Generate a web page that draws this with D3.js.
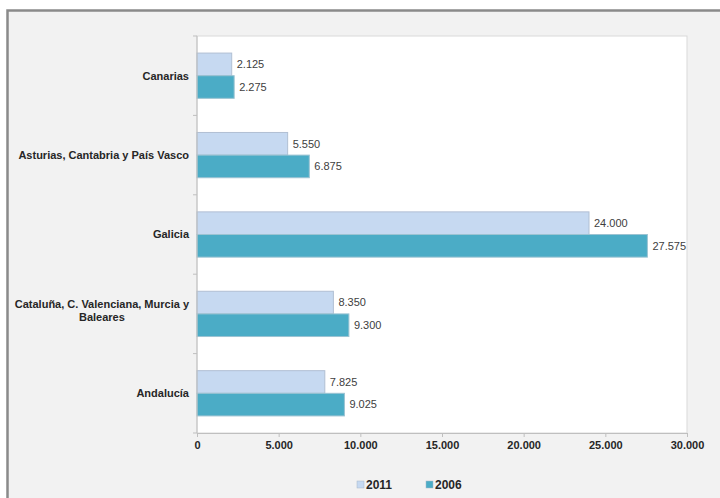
<!DOCTYPE html>
<html><head><meta charset="utf-8">
<script src="https://cdn.jsdelivr.net/npm/d3@7"></script>
<style>body{margin:0;background:#fff}svg{display:block}text{font-family:"Liberation Sans",Arial,sans-serif}</style>
</head><body><div id="c"></div>
<script>
const categories = ["Canarias","Asturias, Cantabria y País Vasco","Galicia","Cataluña, C. Valenciana, Murcia y Baleares","Andalucía"];
const categoryLines = [["Canarias"],["Asturias, Cantabria y País Vasco"],["Galicia"],["Cataluña, C. Valenciana, Murcia y","Baleares"],["Andalucía"]];
const seriesNames = ["2011","2006"];
const values2011 = [2125,5550,24000,8350,7825];
const values2006 = [2275,6875,27575,9300,9025];
const xTicks = [0,5000,10000,15000,20000,25000,30000];
const xTickLabels = ["0","5.000","10.000","15.000","20.000","25.000","30.000"];
const colors = {"2011":"#c6d9f1","2006":"#4bacc6"};

const W=720,H=498;
const svg=d3.select("#c").append("svg").attr("width",W).attr("height",H);
// outer frame
svg.append("rect").attr("x",7.5).attr("y",10.5).attr("width",W).attr("height",H).attr("fill","#f2f2f2").attr("stroke","#8a8a8a").attr("stroke-width",2.5);

const L=197,R=687,T=36,B=433;
const x=d3.scaleLinear().domain([0,30000]).range([L,R]);
const y=d3.scaleBand().domain(categories).range([T,B]).paddingInner(0.43).paddingOuter(0.215);
const y1=d3.scaleBand().domain(seriesNames).range([0,y.bandwidth()]);

svg.append("rect").attr("x",L).attr("y",T).attr("width",R-L).attr("height",B-T).attr("fill","#fff").attr("stroke","#d9d9d9").attr("stroke-width",1);

const data=categories.map((c,i)=>({c,i,vals:[{s:"2011",v:values2011[i]},{s:"2006",v:values2006[i]}]}));
const g=svg.append("g").selectAll("g").data(data).join("g").attr("transform",d=>`translate(0,${y(d.c)})`);
g.selectAll("rect").data(d=>d.vals).join("rect")
  .attr("x",x(0)).attr("y",d=>y1(d.s)).attr("width",d=>x(d.v)-x(0)).attr("height",y1.bandwidth())
  .attr("fill",d=>colors[d.s]).attr("stroke",d=>d.s==="2011"?"#b0bfd3":"#9cc3d2").attr("stroke-width",1);
g.selectAll("text").data(d=>d.vals).join("text")
  .attr("x",d=>x(d.v)+5).attr("y",d=>y1(d.s)+y1.bandwidth()/2).attr("dy","0.35em")
  .attr("font-size",11).attr("fill","#404040").text(d=>d3.format(",")(d.v).replace(/,/g,"."));

// axes
const xAxis=d3.axisBottom(x).tickValues(xTicks).tickFormat((d,i)=>xTickLabels[i]).tickSize(4).tickSizeOuter(0);
const xa=svg.append("g").attr("transform",`translate(0,${B})`).call(xAxis);
xa.select(".domain").attr("stroke","#bfbfbf");
xa.selectAll(".tick line").attr("stroke","#bfbfbf");
xa.selectAll(".tick text").attr("font-size",11).attr("font-weight","bold").attr("fill","#262626").attr("y",8).style("font-family","'Liberation Sans',Arial,sans-serif");

// y axis line and boundary ticks
const bounds=d3.range(categories.length+1).map(i=>T+i*(B-T)/categories.length);
svg.append("line").attr("x1",L).attr("x2",L).attr("y1",T).attr("y2",B).attr("stroke","#bfbfbf");
svg.selectAll(".yt").data(bounds).join("line").attr("x1",L-4).attr("x2",L).attr("y1",d=>d).attr("y2",d=>d).attr("stroke","#bfbfbf");

// category labels
data.forEach(d=>{
  const lines=categoryLines[d.i];
  const cy=y(d.c)+y.bandwidth()/2;
  const lh=13;
  const t=svg.append("text").attr("font-size",11).attr("font-weight","bold").attr("fill","#262626");
  const y0=cy-(lines.length-1)*lh/2-(lines.length>1?3:0);
  const spans=lines.map((ln,k)=>t.append("tspan").attr("y",y0+k*lh).attr("dy","0.35em").text(ln));
  const widths=spans.map(s=>s.node().getComputedTextLength());
  const maxW=Math.max(...widths);
  const right=L-8;
  spans.forEach(s=>s.attr("x",right-maxW/2).attr("text-anchor","middle"));
});

// legend
const leg=[{s:"2011",x:357},{s:"2006",x:426}];
leg.forEach(l=>{
  svg.append("rect").attr("x",l.x).attr("y",481).attr("width",7).attr("height",7).attr("fill",colors[l.s]).attr("stroke","#a6b6c8").attr("stroke-width",0.5);
  svg.append("text").attr("x",l.x+9).attr("y",484.5).attr("dy","0.35em").attr("font-size",12).attr("font-weight","bold").attr("fill","#262626").text(l.s);
});
</script></body></html>
